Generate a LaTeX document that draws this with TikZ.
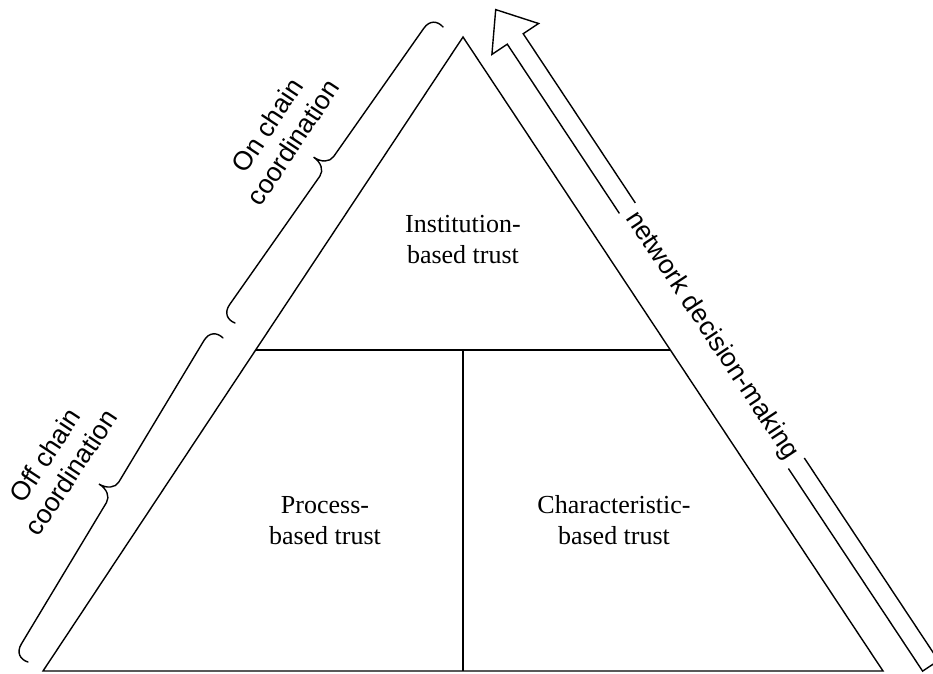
\documentclass[tikz,border=0pt]{standalone}
\usepackage{fontspec}
\setmainfont{Liberation Serif}
\newfontfamily\sansfont{Liberation Sans}
\usetikzlibrary{calc}
\begin{document}
\begin{tikzpicture}[x=1pt,y=-1pt,line width=1.4pt,line join=miter,
  lbl/.style={font=\fontsize{26}{31}\selectfont,inner sep=0pt},
  sidelbl/.style={font=\sansfont\fontsize{26.5}{31}\selectfont,inner sep=0pt},
  bracepath/.style={line cap=round}]
\useasboundingbox (0,0) rectangle (933,673);
% triangle
\coordinate (A) at (463,37);
\coordinate (L) at (43,671);
\coordinate (R) at (883,671);
\coordinate (ML) at ($(A)!0.4937!(L)$);
\coordinate (MR) at ($(A)!0.4937!(R)$);
\coordinate (MT) at (463,350);
\coordinate (MB) at (463,671);
\draw (A) -- (L) -- (R) -- cycle;
\draw (ML) -- (MR);
\draw (MT) -- (MB);
% texts
\node[lbl] (inst) at (463,241.3) {\begin{tabular}{@{}c@{}}Institution-\\based trust\end{tabular}};
\node[lbl] (proc) at (325,522.3) {\begin{tabular}{@{}c@{}}Process-\\based trust\end{tabular}};
\node[lbl] (char) at (614,522.3) {\begin{tabular}{@{}c@{}}Characteristic-\\based trust\end{tabular}};
% braces
\coordinate (b1s) at (235,323);
\coordinate (b2s) at (28,662);
\begin{scope}[shift={(b1s)},rotate=54.9]
\draw[bracepath] (0,0) .. controls (-2,-8) and (2,-15) .. (12,-15)
  -- (168.9,-15) .. controls (176,-15) and (180.9,-22) .. (180.9,-31)
  .. controls (180.9,-22) and (185.8,-15) .. (192.9,-15)
  -- (349.8,-15) .. controls (359.8,-15) and (363.8,-8) .. (361.8,0);
\end{scope}
\begin{scope}[shift={(b2s)},rotate=58.96]
\draw[bracepath] (0,0) .. controls (-2,-8) and (2,-15) .. (12,-15)
  -- (177.1,-15) .. controls (184.2,-15) and (189.1,-22) .. (189.1,-31)
  .. controls (189.1,-22) and (194,-15) .. (201.1,-15)
  -- (366.2,-15) .. controls (376.2,-15) and (380.2,-8) .. (378.2,0);
\end{scope}
\node[sidelbl,rotate=56.5] (onchain) at (282.7,135.8) {\begin{tabular}{@{}c@{}}On chain\\coordination\end{tabular}};
\node[sidelbl,rotate=56.5] (offchain) at (60.7,465.8) {\begin{tabular}{@{}c@{}}Off chain\\coordination\end{tabular}};
% hollow arrow
\coordinate (tip) at (495.7,9.6);
\coordinate (bl) at (491.9,54.4);
\coordinate (br) at (538.6,23.5);
\coordinate (il) at (507.3,44.2);
\coordinate (ir) at (523.2,33.7);
\coordinate (gl1) at (619.4,213.4);
\coordinate (gr1) at (635.3,202.9);
\coordinate (gl2) at (788.4,468.5);
\coordinate (gr2) at (804.3,458.0);
\coordinate (tl) at (922.6,671.1);
\coordinate (tr) at (938.5,660.6);
\draw (gl1) -- (il) -- (bl) -- (tip) -- (br) -- (ir) -- (gr1);
\begin{scope}
\clip (0,0) rectangle (933,673);
\draw (gl2) -- (tl) -- (tr) -- (gr2);
\end{scope}
\node[sidelbl,rotate=-56.5] (net) at (711.8,335.8) {network decision-making};
\end{tikzpicture}
\end{document}
